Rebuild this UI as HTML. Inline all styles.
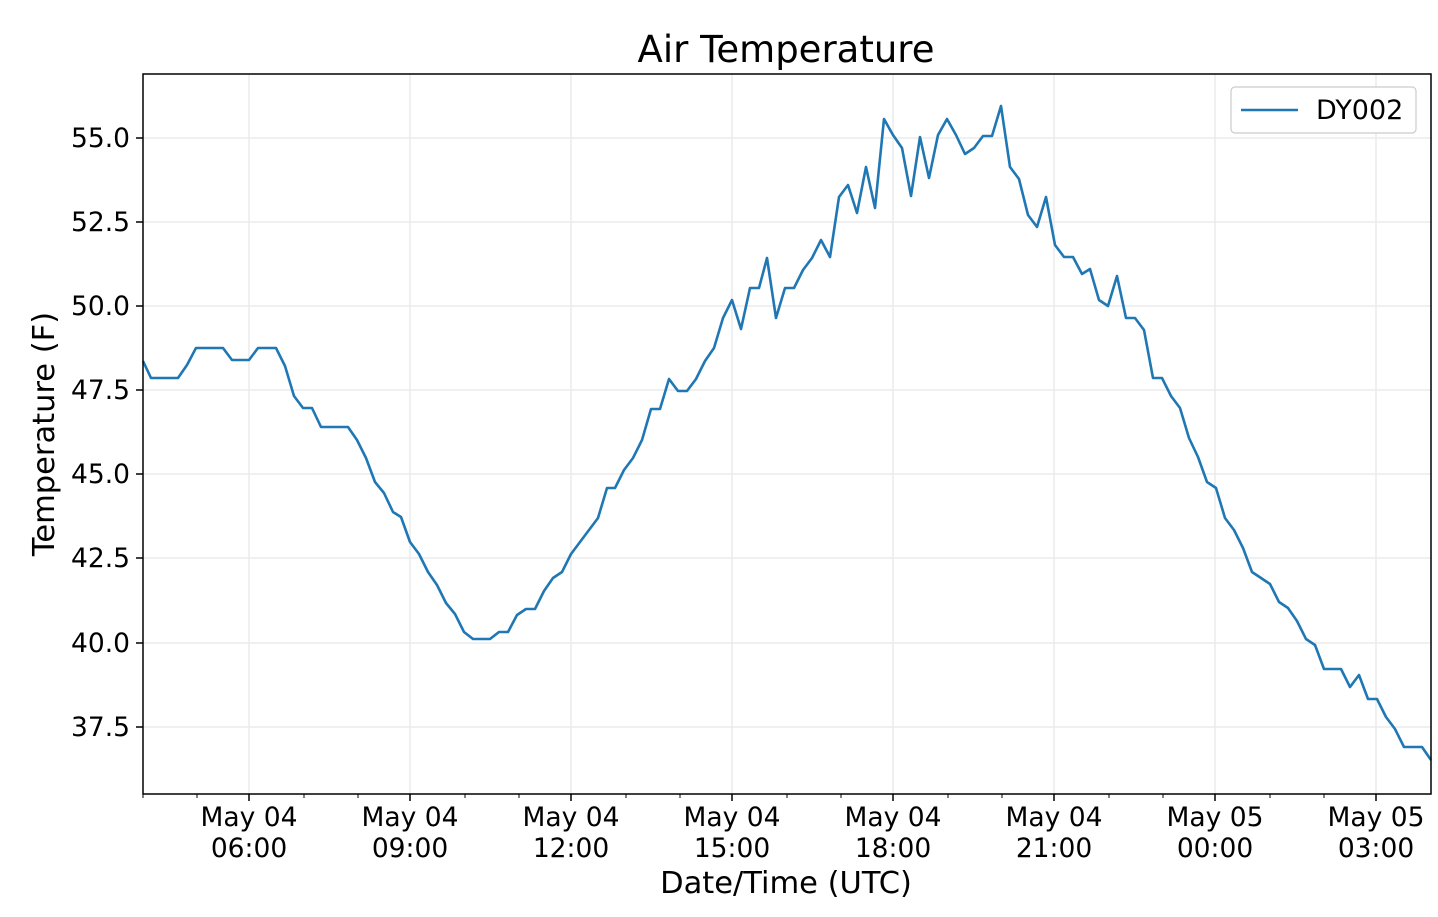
<!DOCTYPE html>
<html><head><meta charset="utf-8"><style>
html,body{margin:0;padding:0;background:#fff;}
svg{display:block;font-family:"DejaVu Sans","Liberation Sans",sans-serif;}
</style></head><body>
<svg width="1438" height="917" viewBox="0 0 1438 917" xmlns="http://www.w3.org/2000/svg">
<rect width="1438" height="917" fill="#fff"/>
<g stroke="#ebebeb" stroke-width="1.5">
<line x1="143" y1="138" x2="1431" y2="138"/><line x1="143" y1="222" x2="1431" y2="222"/>
<line x1="143" y1="306" x2="1431" y2="306"/><line x1="143" y1="390" x2="1431" y2="390"/>
<line x1="143" y1="474" x2="1431" y2="474"/><line x1="143" y1="558" x2="1431" y2="558"/>
<line x1="143" y1="643" x2="1431" y2="643"/><line x1="143" y1="727" x2="1431" y2="727"/>
<line x1="249" y1="74" x2="249" y2="794"/><line x1="410" y1="74" x2="410" y2="794"/>
<line x1="571" y1="74" x2="571" y2="794"/><line x1="732" y1="74" x2="732" y2="794"/>
<line x1="893" y1="74" x2="893" y2="794"/><line x1="1054" y1="74" x2="1054" y2="794"/>
<line x1="1215" y1="74" x2="1215" y2="794"/><line x1="1376" y1="74" x2="1376" y2="794"/>
</g>
<polyline fill="none" stroke="#1f77b4" stroke-width="2.6" stroke-linejoin="round" points="143,361 151,378 178,378 187,365 196,348 223,348 232,360 249,360 258,348 276,348 285,366 294,396 303,408 312,408 321,427 348,427 357,440 366,458 375,482 384,493 393,512 401,517 410,542 419,554 428,572 437,585 446,603 455,614 464,632 473,639 490,639 499,632 508,632 517,615 526,609 535,609 544,591 553,578 562,572 571,554 580,542 589,530 598,518 607,488 615,488 624,470 633,458 642,440 651,409 660,409 669,379 678,391 687,391 696,379 705,361 714,348 723,318 732,300 741,329 750,288 759,288 767,258 776,318 785,288 794,288 803,270 812,258 821,240 830,257 839,197 848,185 857,213 866,167 875,208 884,119 893,135 902,148 911,196 920,137 929,178 938,135 947,119 956,135 965,154 974,148 983,136 992,136 1001,106 1010,167 1019,179 1028,215 1037,227 1046,197 1055,245 1064,257 1073,257 1082,274 1090,269 1099,300 1108,306 1117,276 1126,318 1135,318 1144,330 1153,378 1162,378 1171,396 1180,408 1189,438 1198,457 1207,482 1216,488 1225,518 1234,530 1243,548 1252,572 1261,578 1270,584 1279,602 1288,608 1297,621 1306,639 1315,645 1324,669 1341,669 1350,687 1359,675 1368,699 1377,699 1386,717 1395,729 1404,747 1422,747 1431,760"/>
<rect x="143" y="74" width="1288" height="720" fill="none" stroke="#000" stroke-width="1.5"/>
<g stroke="#000" stroke-width="1.5">
<line x1="136" y1="138" x2="143" y2="138"/><line x1="136" y1="222" x2="143" y2="222"/>
<line x1="136" y1="306" x2="143" y2="306"/><line x1="136" y1="390" x2="143" y2="390"/>
<line x1="136" y1="474" x2="143" y2="474"/><line x1="136" y1="558" x2="143" y2="558"/>
<line x1="136" y1="643" x2="143" y2="643"/><line x1="136" y1="727" x2="143" y2="727"/>
<line x1="249" y1="794" x2="249" y2="801"/><line x1="410" y1="794" x2="410" y2="801"/>
<line x1="571" y1="794" x2="571" y2="801"/><line x1="732" y1="794" x2="732" y2="801"/>
<line x1="893" y1="794" x2="893" y2="801"/><line x1="1054" y1="794" x2="1054" y2="801"/>
<line x1="1215" y1="794" x2="1215" y2="801"/><line x1="1376" y1="794" x2="1376" y2="801"/>
</g>
<g stroke="#000" stroke-width="1">
<line x1="197" y1="794" x2="197" y2="798"/><line x1="304" y1="794" x2="304" y2="798"/><line x1="358" y1="794" x2="358" y2="798"/>
<line x1="465" y1="794" x2="465" y2="798"/><line x1="519" y1="794" x2="519" y2="798"/><line x1="626" y1="794" x2="626" y2="798"/>
<line x1="680" y1="794" x2="680" y2="798"/><line x1="787" y1="794" x2="787" y2="798"/><line x1="841" y1="794" x2="841" y2="798"/>
<line x1="948" y1="794" x2="948" y2="798"/><line x1="1002" y1="794" x2="1002" y2="798"/><line x1="1109" y1="794" x2="1109" y2="798"/>
<line x1="1163" y1="794" x2="1163" y2="798"/><line x1="1270" y1="794" x2="1270" y2="798"/><line x1="1324" y1="794" x2="1324" y2="798"/>
<line x1="143" y1="794" x2="143" y2="798"/>
</g>
<g font-size="26.5" fill="#000" text-anchor="end">
<text x="130" y="147">55.0</text><text x="130" y="231">52.5</text><text x="130" y="315">50.0</text>
<text x="130" y="399">47.5</text><text x="130" y="483">45.0</text><text x="130" y="567">42.5</text>
<text x="130" y="652">40.0</text><text x="130" y="736">37.5</text>
</g>
<g font-size="26.5" fill="#000" text-anchor="middle">
<text x="249" y="826">May 04</text><text x="249" y="857">06:00</text>
<text x="410" y="826">May 04</text><text x="410" y="857">09:00</text>
<text x="571" y="826">May 04</text><text x="571" y="857">12:00</text>
<text x="732" y="826">May 04</text><text x="732" y="857">15:00</text>
<text x="893" y="826">May 04</text><text x="893" y="857">18:00</text>
<text x="1054" y="826">May 04</text><text x="1054" y="857">21:00</text>
<text x="1215" y="826">May 05</text><text x="1215" y="857">00:00</text>
<text x="1376" y="826">May 05</text><text x="1376" y="857">03:00</text>
<text x="786" y="893" font-size="30.5">Date/Time (UTC)</text>
<text x="786" y="62" font-size="37">Air Temperature</text>
<text transform="translate(54,434) rotate(-90)" font-size="30.5">Temperature (F)</text>
</g>
<rect x="1231" y="87" width="185" height="46" rx="4" fill="#fff" stroke="#ccc" stroke-width="1.2"/>
<line x1="1241" y1="110" x2="1298" y2="110" stroke="#1f77b4" stroke-width="2.6"/>
<text x="1316" y="119" font-size="27" fill="#000">DY002</text>
</svg>
</body></html>
